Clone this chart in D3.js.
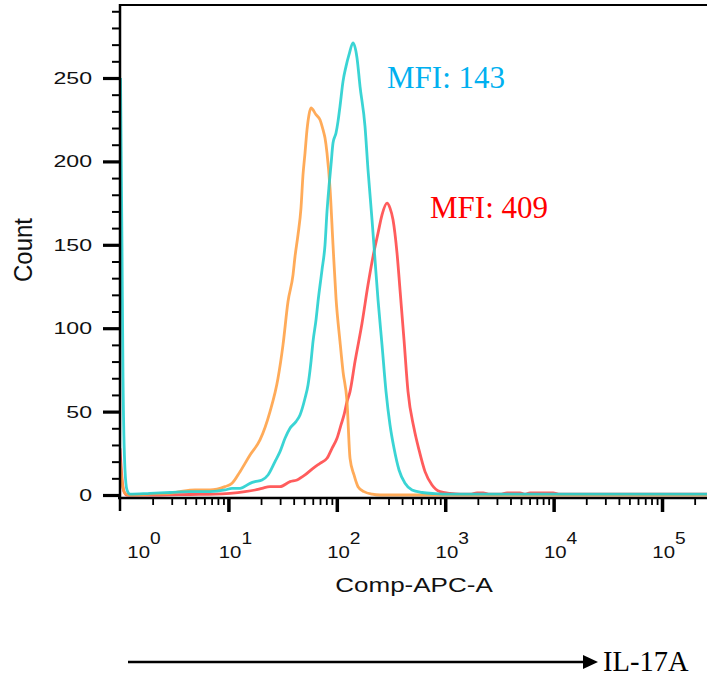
<!DOCTYPE html>
<html><head><meta charset="utf-8">
<script src="https://cdn.jsdelivr.net/npm/d3@7"></script>
<style>html,body{margin:0;padding:0;background:#fff;} svg{display:block;}</style>
</head><body>
<svg id="chart" width="707" height="678"></svg>
<script>
// ---------- data (fluorescence intensity, event count) ----------
const orangeX = [1, 1.043, 1.112, 1.237, 1.891, 2.893, 3.577, 4.920, 6.766, 7.850,
  9.30, 10.80, 12.80, 15.83, 19.56, 24.20, 28.68, 31.89, 35.47, 39.45,
  41.16, 43.86, 46.72, 48.77, 50.89, 53.11, 55.41, 57.81, 64.29, 69.98,
  74.59, 77.84, 81.21, 86.55, 92.24, 98.31, 107.0, 114.1, 124.2, 132.4,
  144.1, 156.9, 178.2, 211.3, 250.4, 262144];
const orangeY = [20, 8, 1, 0, 0.5, 1, 2, 3, 3, 3.5,
  5, 7, 14, 24, 33, 50, 70, 90, 116, 132,
  143, 156, 172, 192, 205, 219, 228, 232, 228, 225,
  219, 214, 205, 184, 150, 118, 92, 74, 56, 22,
  12, 5, 2, 0.5, 0, 0];

const cyanX = [1.011, 1.043, 1.066, 1.112, 1.160, 1.237,
  1.891, 2.893, 4.424, 6.766, 9.30, 10.80, 12.80, 15.83,
  17.60, 20.42, 23.20, 26.91, 29.92, 33.29, 37.01, 42.04, 45.77, 50.89,
  54.25, 57.81, 60.32, 64.29, 67.09, 73.03, 77.84, 81.21, 84.72, 88.41,
  92.24, 98.31, 102.6, 107.0, 114.1, 121.6, 129.6, 141.1, 153.6, 163.7,
  182.0, 194.0, 211.3, 225.1, 240.0, 261.2, 284.4, 309.6, 337.2, 374.9,
  425.8, 494.0, 611.0, 805.1, 1107, 262144];
const cyanY = [250, 150, 70, 15, 3, 0.5,
  1, 1.5, 2, 2, 3, 4, 4, 7,
  8, 9, 12, 20, 26, 34, 40, 44, 48, 58,
  66, 80, 92, 105, 116, 135, 150, 170, 185, 198,
  211, 217, 224, 233, 248, 257, 264, 271, 262, 245,
  221, 195, 165, 141, 117, 90, 62, 42, 28, 15,
  7, 3, 1.5, 0.8, 0.5, 0.5];

const redX = [1, 1.043, 1.089, 1.160, 2.339, 4.424, 7.523, 10.35, 14.23, 17.60,
  20.42, 24.20, 29.92, 37.01, 42.94, 50.89, 60.32, 69.98, 81.21, 90.31,
  100.4, 109.3, 116.5, 124.2, 132.4, 147.2, 170.8, 194.0, 215.8, 240.0,
  261.2, 290.5, 309.6, 330.0, 359.3, 382.9, 416.8, 453.8, 515.4, 573.2,
  651.3, 755.3, 895.4, 1107, 1369, 1693, 1965, 2232, 2590, 3203,
  3717, 4898, 5447, 6057, 9874, 11460, 262144];
const redY = [28, 10, 2, 0, 0, 0.3, 0.5, 1, 2, 3,
  4, 5, 5, 8, 9, 12, 16, 19, 22, 28,
  34, 42, 48, 56, 62, 80, 103, 126, 143, 157,
  168, 175, 172, 165, 145, 123, 93, 62, 40, 27,
  14, 6, 2, 1, 0.5, 0.5, 1.2, 1.2, 0.5, 0.5,
  1.2, 1.2, 0.5, 1.2, 1.2, 0.5, 0.5];

const seriesNames = ["red", "orange", "cyan"];
const seriesColors = ["#FF4A4A", "#FFA247", "#25CFCF"];

const yMajorTicks = [0, 50, 100, 150, 200, 250];
const yTickLabels = ["0", "50", "100", "150", "200", "250"];
const xDecades = [1, 10, 100, 1000, 10000, 100000];
const xDecadeExps = ["0", "1", "2", "3", "4", "5"];
const xAxisTitle = "Comp-APC-A";
const yAxisTitle = "Count";
const mfiTexts = ["MFI: 143", "MFI: 409"];
const mfiColors = ["#00B0F0", "#FF0000"];
const arrowLabel = "IL-17A";

(function draw() {
  const svg = d3.select("#chart");
  const pLeft = 120, pTop = 5, pRight = 707.4, zeroY = 495;
  const x = d3.scaleLog().domain([1, 262144]).range([pLeft, pRight]);
  const y = d3.scaleLinear().domain([0, 294]).range([zeroY, zeroY - 294 * 1.668]);
  const sans = "Liberation Sans, Arial, sans-serif";
  const serif = "Liberation Serif, Times New Roman, serif";

  svg.append("defs").append("clipPath").attr("id", "plotclip")
    .append("rect").attr("x", pLeft).attr("y", pTop).attr("width", 707 - pLeft).attr("height", 500);

  const seriesData = [
    redX.map((v, i) => [v, redY[i]]),
    orangeX.map((v, i) => [v, orangeY[i]]),
    cyanX.map((v, i) => [v, cyanY[i]])
  ];
  const line = d3.line().x(d => x(d[0])).y(d => y(d[1])).curve(d3.curveMonotoneX);
  const g = svg.append("g").attr("clip-path", "url(#plotclip)");
  seriesData.forEach((d, i) => {
    g.append("path").datum(d).attr("d", line)
      .attr("fill", "none").attr("stroke", seriesColors[i])
      .attr("stroke-width", 2.8).attr("stroke-linejoin", "round")
      .attr("stroke-opacity", 0.9);
  });

  svg.append("line").attr("x1", pLeft).attr("x2", 707).attr("y1", pTop).attr("y2", pTop)
    .attr("stroke", "#000").attr("stroke-width", 2);

  const yMinor = d3.range(0, 291, 10).filter(v => v % 50 !== 0);
  const yAxMinor = svg.append("g").attr("transform", `translate(${pLeft},0)`)
    .call(d3.axisLeft(y).tickValues(yMinor).tickSize(8).tickFormat(""));
  yAxMinor.select(".domain").remove();
  yAxMinor.selectAll("line").attr("stroke-width", 2);
  const yAxMajor = svg.append("g").attr("transform", `translate(${pLeft},0)`)
    .call(d3.axisLeft(y).tickValues(yMajorTicks).tickSize(17).tickFormat(""));
  yAxMajor.select(".domain").remove();
  yAxMajor.selectAll("line").attr("stroke-width", 3.2);
  svg.append("line").attr("x1", pLeft).attr("x2", pLeft).attr("y1", pTop - 1).attr("y2", 511)
    .attr("stroke", "#000").attr("stroke-width", 2.5);

  yMajorTicks.forEach((v, i) => {
    svg.append("text").attr("transform", `translate(92,${y(v) + 6}) scale(1.4,1)`)
      .attr("text-anchor", "end").attr("font-family", sans)
      .attr("font-size", 16.5).attr("fill", "#111").text(yTickLabels[i]);
  });
  svg.append("text").attr("transform", `translate(32,250) scale(1.1,1) rotate(-90)`)
    .attr("text-anchor", "middle").attr("font-family", sans)
    .attr("font-size", 24).attr("fill", "#111").text(yAxisTitle);

  const axisY = 498;
  const xMinor = [];
  xDecades.forEach(d => { for (let k = 2; k <= 9; k++) { if (d * k <= 262144) xMinor.push(d * k); } });
  const xAxMinor = svg.append("g").attr("transform", `translate(0,${axisY})`)
    .call(d3.axisBottom(x).tickValues(xMinor).tickSize(7).tickFormat(""));
  xAxMinor.select(".domain").remove();
  xAxMinor.selectAll("line").attr("stroke-width", 1.8);
  const xAxMajor = svg.append("g").attr("transform", `translate(0,${axisY})`)
    .call(d3.axisBottom(x).tickValues(xDecades.slice(1)).tickSize(14).tickFormat(""));
  xAxMajor.select(".domain").remove();
  xAxMajor.selectAll("line").attr("stroke-width", 3.5);
  svg.append("line").attr("x1", pLeft - 2).attr("x2", 707).attr("y1", axisY).attr("y2", axisY)
    .attr("stroke", "#000").attr("stroke-width", 2.5);

  xDecades.forEach((d, i) => {
    const cx = x(d) + (i === 0 ? 24 : 7);
    const t = svg.append("text").attr("transform", `translate(${cx},558) scale(1.2,1)`)
      .attr("text-anchor", "middle").attr("font-family", sans)
      .attr("font-size", 17).attr("fill", "#111");
    t.append("tspan").text("10");
    t.append("tspan").attr("dy", -14).attr("font-size", 16).text(xDecadeExps[i]);
  });
  svg.append("text").attr("transform", `translate(414,592) scale(1.3,1)`)
    .attr("text-anchor", "middle").attr("font-family", sans)
    .attr("font-size", 20).attr("fill", "#111").text(xAxisTitle);

  svg.append("text").attr("x", 387).attr("y", 88).attr("font-family", serif)
    .attr("font-size", 31).attr("fill", mfiColors[0]).text(mfiTexts[0]);
  svg.append("text").attr("x", 430).attr("y", 218).attr("font-family", serif)
    .attr("font-size", 31).attr("fill", mfiColors[1]).text(mfiTexts[1]);

  svg.append("line").attr("x1", 128).attr("x2", 585).attr("y1", 662).attr("y2", 662)
    .attr("stroke", "#000").attr("stroke-width", 2.5);
  svg.append("path").attr("d", "M583,655 L598,662 L583,669 Z").attr("fill", "#000");
  svg.append("text").attr("x", 603).attr("y", 671).attr("font-family", serif)
    .attr("font-size", 28.5).attr("fill", "#000").text(arrowLabel);
})();
</script>
</body></html>
